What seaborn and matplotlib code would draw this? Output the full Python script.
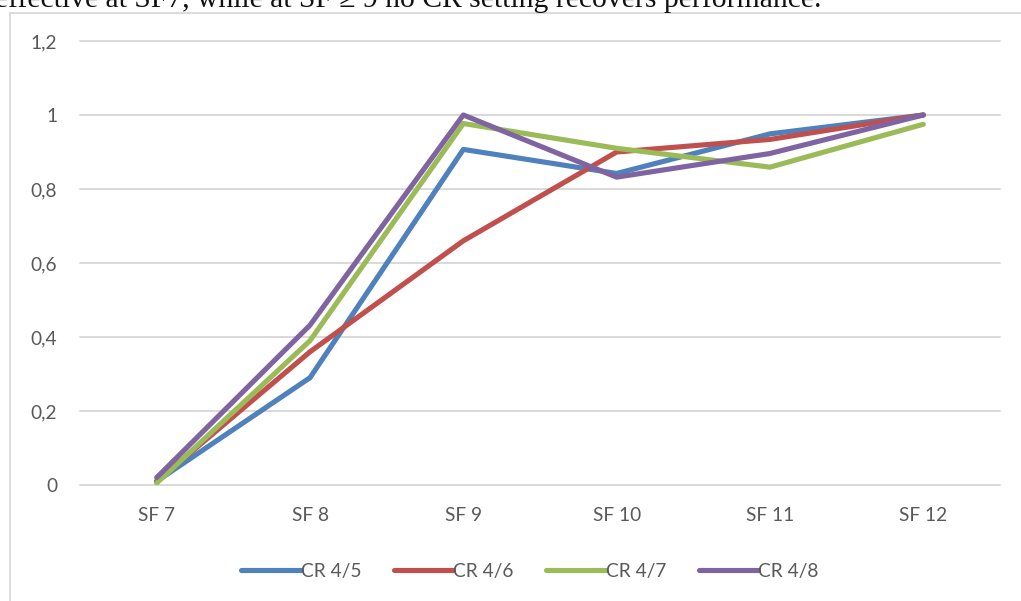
import matplotlib
matplotlib.use("Agg")
import matplotlib.pyplot as plt
from matplotlib.patches import Rectangle
import seaborn as sns
import pandas as pd

# Spreading factors on the category axis
spreading_factors = ["SF 7", "SF 8", "SF 9", "SF 10", "SF 11", "SF 12"]

# Normalised performance per coding rate
cr_4_5 = [0.010, 0.290, 0.907, 0.842, 0.949, 1.000]
cr_4_6 = [0.010, 0.360, 0.660, 0.900, 0.934, 1.000]
cr_4_7 = [0.005, 0.390, 0.977, 0.910, 0.859, 0.975]
cr_4_8 = [0.020, 0.432, 1.000, 0.832, 0.896, 1.000]

series_names = ["CR 4/5", "CR 4/6", "CR 4/7", "CR 4/8"]
series_values = [cr_4_5, cr_4_6, cr_4_7, cr_4_8]
series_colors = ["#4f81bd", "#c0504d", "#9bbb59", "#8064a2"]

y_ticks = [0, 0.2, 0.4, 0.6, 0.8, 1.0, 1.2]
y_tick_labels = ["0", "0,2", "0,4", "0,6", "0,8", "1", "1,2"]

caption = "effective at SF7, while at SF \u2265 9 no CR setting recovers performance."

rows = []
for name, values in zip(series_names, series_values):
    for i, v in enumerate(values):
        rows.append({"pos": i, "value": v, "series": name})
df = pd.DataFrame(rows)

sns.set_theme(style="white")
plt.rcParams["font.family"] = ["Lato", "DejaVu Sans"]

W, H = 1021, 601
fig = plt.figure(figsize=(W / 100, H / 100), dpi=100)
fig.patch.set_facecolor("white")

# Chart frame
fig.patches.append(Rectangle((10 / W, -0.05), 1.2, (601 - 13) / H + 0.05,
                             transform=fig.transFigure, fill=False,
                             edgecolor="#d9d9d9", linewidth=1.3, zorder=0))

# Caption line sitting above the chart, partly outside the canvas
fig.text(-5 / W, 1 - 7 / H, caption, family=["Liberation Serif", "DejaVu Serif"],
         fontsize=21.3, color="#111111", ha="left", va="baseline")

ax = fig.add_axes([80 / W, (601 - 485) / H, 920 / W, 444 / H])
ax.set_facecolor("none")

sns.lineplot(data=df, x="pos", y="value", hue="series", hue_order=series_names,
             palette=series_colors, linewidth=3.7, ax=ax, legend=False,
             solid_capstyle="round", solid_joinstyle="round", zorder=3)

ax.set_xlim(-0.5, len(spreading_factors) - 0.5)
ax.set_ylim(0, 1.2)
ax.set_xticks(range(len(spreading_factors)))
ax.set_xticklabels(spreading_factors)
ax.set_yticks(y_ticks)
ax.set_yticklabels(y_tick_labels)
ax.set_xlabel("")
ax.set_ylabel("")
for s in ax.spines.values():
    s.set_visible(False)
ax.grid(False)
for yv in y_ticks:
    ax.axhline(yv, color="#d9d9d9", linewidth=1.4, zorder=1, clip_on=False)
ax.tick_params(axis="both", length=0, labelsize=13.8, colors="#595959")
ax.tick_params(axis="x", pad=16)
ax.tick_params(axis="y", pad=16.5)

handles = [plt.Line2D([], [], color=c, linewidth=3.7, solid_capstyle="round")
           for c in series_colors]
leg = fig.legend(handles, series_names, loc="center", bbox_to_anchor=(530 / W, 1 - 571 / H),
                 ncol=4, frameon=False, fontsize=13.8, handlelength=3.1,
                 handletextpad=0.0, columnspacing=1.7)
for t in leg.get_texts():
    t.set_color("#595959")

fig.savefig("out.png", dpi=100, facecolor="white")
